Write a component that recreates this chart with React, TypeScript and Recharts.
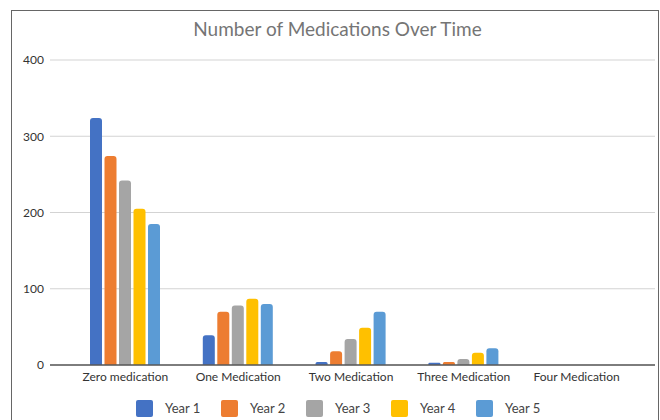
import React from "react";
import { BarChart, Bar, XAxis, YAxis, CartesianGrid } from "recharts";

const categories = [
  "Zero medication",
  "One Medication",
  "Two Medication",
  "Three Medication",
  "Four Medication",
];
const year1 = [324, 39, 4, 3, 0];
const year2 = [274, 70, 18, 4, 0];
const year3 = [242, 78, 34, 8, 0];
const year4 = [205, 87, 49, 16, 0];
const year5 = [185, 80, 70, 22, 0];

const seriesNames = ["Year 1", "Year 2", "Year 3", "Year 4", "Year 5"];
const seriesColors = ["#4472C4", "#ED7D31", "#A5A5A5", "#FFC000", "#5B9BD5"];
const yTicks = [0, 100, 200, 300, 400];

const seriesValues = [year1, year2, year3, year4, year5];

const data = categories.map((name, i) => {
  const row: Record<string, string | number> = { name };
  seriesNames.forEach((s, j) => {
    row[s] = seriesValues[j][i];
  });
  return row;
});

const font = "Lato, 'Open Sans', sans-serif";

function LegendRow() {
  return (
    <div
      style={{
        position: "absolute",
        top: 399,
        left: 136,
        display: "flex",
        fontFamily: font,
        fontSize: 13,
        color: "#444",
      }}
    >
      {seriesNames.map((s, i) => (
        <div
          key={s}
          style={{
            display: "flex",
            alignItems: "center",
            width: i === seriesNames.length - 1 ? 70 : 85,
            height: 18,
          }}
        >
          <div
            style={{
              width: 17,
              height: 17,
              borderRadius: 2,
              background: seriesColors[i],
              marginRight: 12,
            }}
          />
          <span>{s}</span>
        </div>
      ))}
    </div>
  );
}

export default function App() {
  return (
    <div
      style={{
        position: "absolute",
        top: 0,
        left: 0,
        width: 660,
        height: 420,
        overflow: "hidden",
        background: "#fff",
      }}
    >
      <div
        style={{
          position: "absolute",
          left: 11,
          top: 10,
          width: 646,
          height: 440,
          border: "1px solid #666",
        }}
      />
      <div
        style={{
          position: "absolute",
          top: 17,
          left: 0,
          width: 675,
          textAlign: "center",
          fontFamily: font,
          fontSize: 19,
          color: "#757575",
        }}
      >
        Number of Medications Over Time
      </div>
      <div style={{ position: "absolute", top: 0, left: 0 }}>
        <BarChart
          width={660}
          height={420}
          data={data}
          margin={{ top: 60, right: 5, left: 0, bottom: 30 }}
          barGap={2.5}
        >
          <CartesianGrid vertical={false} stroke="#d3d3d3" />
          <XAxis
            dataKey="name"
            height={25}
            padding={{ left: 19, right: 22 }}
            tickLine={false}
            tickSize={0}
            tickMargin={7}
            axisLine={{ stroke: "#595959", strokeWidth: 1.5 }}
            tick={{ fill: "#333", fontSize: 12, fontFamily: font }}
            interval={0}
          />
          <YAxis
            width={50}
            domain={[0, 400]}
            ticks={yTicks}
            axisLine={false}
            tickLine={false}
            tickSize={0}
            tickMargin={6}
            tick={{ fill: "#333", fontSize: 12, fontFamily: font }}
          />
          {seriesNames.map((s, i) => (
            <Bar
              key={s}
              dataKey={s}
              fill={seriesColors[i]}
              barSize={12}
              radius={[3, 3, 0, 0]}
              isAnimationActive={false}
            />
          ))}
        </BarChart>
      </div>
      <LegendRow />
    </div>
  );
}
